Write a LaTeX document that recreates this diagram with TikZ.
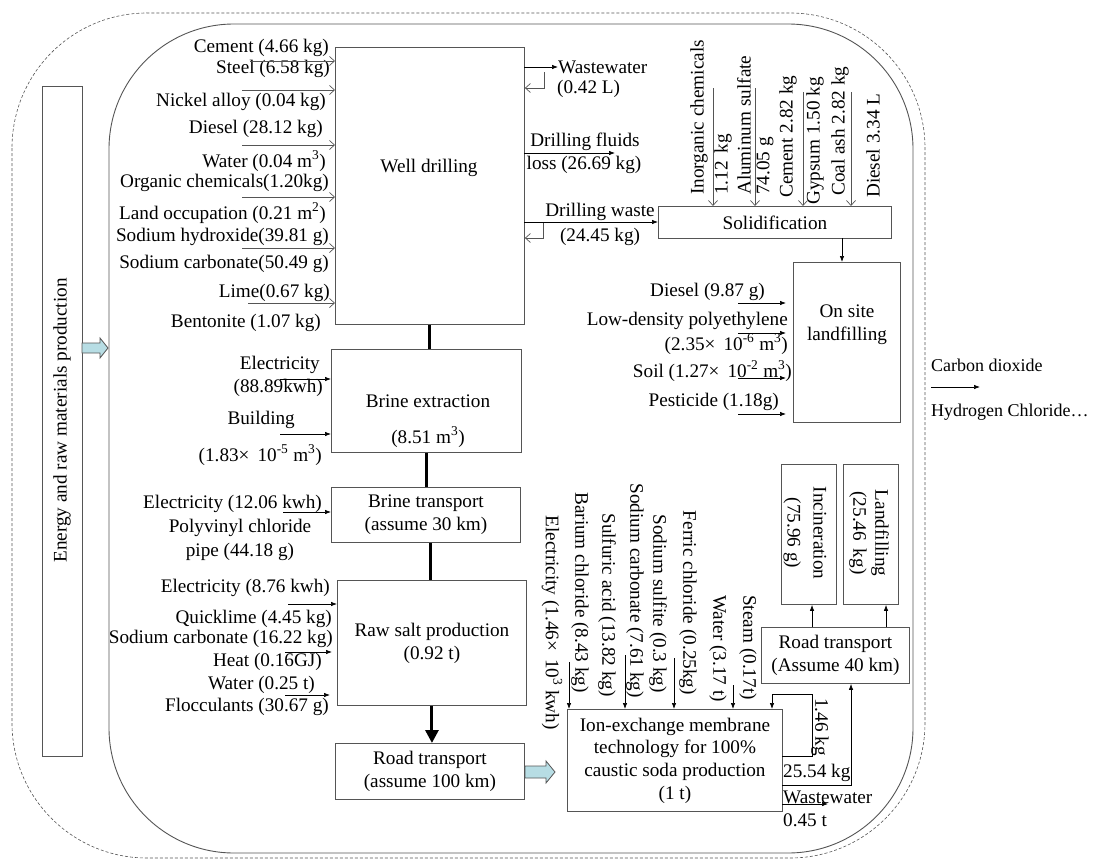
\documentclass[tikz,border=0pt]{standalone}
\usepackage{fontspec}
\setmainfont{Liberation Serif}
\usetikzlibrary{arrows.meta,calc}
\newcommand\fsz{\fontsize{19.2}{23}\selectfont}
\definecolor{fatc}{RGB}{183,221,228}
\definecolor{ln}{RGB}{85,85,85}
\begin{document}
\begin{tikzpicture}[x=1pt,y=-1pt,
  lbl/.style={inner sep=0pt, font=\fsz},
  box/.style={draw=ln, line width=0.9pt, inner sep=0pt, font=\fsz, align=center},
  oarr/.style={draw=ln, line width=0.7pt, -{Straight Barb[length=5pt,width=9pt]}},
  farr/.style={draw=black, line width=0.7pt, -{Latex[length=6pt,width=4.5pt]}},
  thickl/.style={line width=3pt},
  fat/.style={draw=ln, fill=fatc, line width=0.8pt}]
\useasboundingbox (0,0) rectangle (1096,860);

% outlines
\draw[ln, dash pattern=on 3pt off 2pt, line width=0.6pt, rounded corners=135pt] (12,13) rectangle (925,858);
\draw[ln, line width=0.9pt, rounded corners=125pt] (109,24) rectangle (913,853);

% energy box
\node[box, anchor=north west, minimum width=40pt, minimum height=670pt] (en) at (42,86) {};
\node[lbl, rotate=90, anchor=east] (ent) at (62,278) {Energy and raw materials production};
\coordinate (fa1s) at (82,348);
\coordinate (fa1e) at (108,348);
\draw[fat] ($(fa1s)+(0,-5)$) -- ($(fa1e)+(-8,-5)$) -- ($(fa1e)+(-8,-10)$) -- (fa1e) -- ($(fa1e)+(-8,10)$) -- ($(fa1e)+(-8,5)$) -- ($(fa1s)+(0,5)$) -- cycle;

% well drilling
\node[box, anchor=north west, minimum width=189pt, minimum height=277pt] (wd) at (335,47) {};
\node[lbl] (wdt) at (429,168) {Well drilling};
\node[lbl, anchor=east] (w1) at (329,48) {Cement (4.66 kg)};
\node[lbl, anchor=east] (w2) at (330,69) {Steel (6.58 kg)};
\node[lbl, anchor=east] (w3) at (326,102) {Nickel alloy (0.04 kg)};
\node[lbl, anchor=east] (w4) at (323,129) {Diesel (28.12 kg)};
\node[lbl, anchor=east] (w5) at (326,161) {Water (0.04 m\textsuperscript{3})};
\node[lbl, anchor=east] (w6) at (329,183) {Organic chemicals(1.20kg)};
\node[lbl, anchor=east] (w7) at (326,213) {Land occupation (0.21 m\textsuperscript{2})};
\node[lbl, anchor=east] (w8) at (329,237) {Sodium hydroxide(39.81 g)};
\node[lbl, anchor=east] (w9) at (329,264) {Sodium carbonate(50.49 g)};
\node[lbl, anchor=east] (w10) at (330,293) {Lime(0.67 kg)};
\node[lbl, anchor=east] (w11) at (321,323) {Bentonite (1.07 kg)};
\foreach \n/\y/\xs in {a/61/250, b/90/242, c/145/242, d/197/242, e/248/242, f/303/248}{
  \coordinate (wi\n) at (\xs,\y);
  \draw[oarr] (wi\n) -- (wi\n -| wd.west);
}

% well drilling outputs
\node[lbl, anchor=west] (ww) at (558,67) {Wastewater};
\node[lbl, anchor=west] (ww2) at (557,89) {(0.42 L)};
\coordinate (wo1) at (524,67);
\draw[farr] (wo1) -- (ww.west);
\coordinate (r1a) at (544,72);
\coordinate (r1b) at (544,88);
\draw[oarr] (r1a) -- (r1b) -- (r1b -| wd.east);
\node[lbl] (df1) at (585,142) {Drilling fluids};
\node[lbl] (df2) at (584,165) {loss (26.69 kg)};
\coordinate (dfs) at (524,153);
\coordinate (dfe) at (615,153);
\draw[farr] (dfs) -- (dfe);

% solidification
\node[box, anchor=north west, minimum width=233pt, minimum height=32pt] (sol) at (658,206) {Solidification};
\node[lbl] (dw1) at (600,212) {Drilling waste};
\node[lbl] (dw2) at (600,237) {(24.45 kg)};
\coordinate (dws) at (524,222);
\draw[farr] (dws) -- (dws -| sol.west);
\coordinate (r2a) at (543,223);
\coordinate (r2b) at (543,238);
\draw[oarr] (r2a) -- (r2b) -- (r2b -| wd.east);
\node[lbl, rotate=90, anchor=west] (s1) at (699,195) {Inorganic chemicals};
\node[lbl, rotate=90, anchor=west] (s2) at (723,195) {1.12 \,kg};
\node[lbl, rotate=90, anchor=west] (s3) at (744,195) {Aluminum sulfate};
\node[lbl, rotate=90, anchor=west] (s4) at (765,195) {74.05 g};
\node[lbl, rotate=90, anchor=west] (s5) at (788,198) {Cement 2.82 kg};
\node[lbl, rotate=90, anchor=west] (s6) at (815,205) {Gypsum 1.50 kg};
\node[lbl, rotate=90, anchor=west] (s7) at (840,196) {Coal ash 2.82 kg};
\node[lbl, rotate=90, anchor=west] (s8) at (873,198) {Diesel 3.34 L};
\foreach \n/\x/\y in {a/713/88, b/755/88, c/803/92, d/851/92}{
  \coordinate (sa\n) at (\x,\y);
  \draw[oarr] (sa\n) -- (sa\n |- sol.north);
}

% on site landfilling
\node[box, anchor=north west, minimum width=107pt, minimum height=160pt] (lf) at (793,262) {};
\node[lbl, align=center] (lft) at (847,325) {On site\\landfilling};
\coordinate (sl) at (842,238);
\draw[farr] (sl) -- (sl |- lf.north);
\node[lbl, anchor=east] (l1) at (765,292) {Diesel (9.87 g)};
\node[lbl, anchor=east] (l2) at (788,321) {Low-density polyethylene};
\node[lbl, anchor=east] (l3) at (788,344) {(2.35× \,10\textsuperscript{-6} m\textsuperscript{3})};
\node[lbl, anchor=east] (l4) at (792,371) {Soil (1.27× \,10\textsuperscript{-2} m\textsuperscript{3})};
\node[lbl, anchor=east] (l5) at (779,402) {Pesticide (1.18g)};
\foreach \n/\y in {a/303, b/333, c/378, d/414}{
  \coordinate (la\n) at (738,\y);
  \draw[farr] (la\n) -- ($(la\n -| lf.west)+(-7,0)$);
}

% emissions
\node[lbl, anchor=west, font=\fontsize{18}{22}\selectfont] (co2) at (931,365) {Carbon dioxide};
\node[lbl, anchor=west, font=\fontsize{18}{22}\selectfont] (hcl) at (931,412) {Hydrogen Chloride…};
\coordinate (ems) at (931,387);
\coordinate (eme) at (980,387);
\draw[farr] (ems) -- (eme);

% brine extraction
\node[box, anchor=north west, minimum width=190pt, minimum height=103pt] (be) at (331,349) {};
\node[lbl] (be1) at (428,401) {Brine extraction};
\node[lbl] (be2) at (428,437) {(8.51 m\textsuperscript{3})};
\node[lbl, anchor=east] (b1) at (320,365) {Electricity};
\node[lbl, anchor=east] (b2) at (323,388) {(88.89kwh)};
\node[lbl, anchor=east] (b3) at (295,420) {Building};
\node[lbl, anchor=east] (b4) at (322,455) {(1.83× \,10\textsuperscript{-5} m\textsuperscript{3})};
\coordinate (ba1) at (280,379);
\coordinate (ba2) at (280,434);
\draw[farr] (ba1) -- (ba1 -| be.west);
\draw[farr] (ba2) -- (ba2 -| be.west);
\draw[thickl] (wd.south) -- (wd.south |- be.north);

% brine transport
\node[box, anchor=north west, minimum width=189pt, minimum height=55pt] (bt) at (331,487) {Brine transport\\(assume 30 km)};
\draw[thickl] (be.south) -- (be.south |- bt.north);
\node[lbl, anchor=east] (t1) at (322,504) {Electricity (12.06 kwh)};
\node[lbl] (t2) at (240,528) {Polyvinyl chloride};
\node[lbl] (t3) at (240,552) {pipe (44.18 g)};
\coordinate (ta1) at (283,512);
\draw[farr] (ta1) -- (ta1 -| bt.west);

% raw salt production
\node[box, anchor=north west, minimum width=189pt, minimum height=125pt] (rs) at (337,580) {Raw salt production\\(0.92 t)};
\draw[thickl] ($(bt.south)+(5,0)$) -- ($(bt.south |- rs.north)+(5,0)$);
\node[lbl, anchor=east] (r1) at (330,588) {Electricity (8.76 kwh)};
\node[lbl, anchor=east] (r2) at (332,619) {Quicklime (4.45 kg)};
\node[lbl, anchor=east] (r3) at (333,639) {Sodium carbonate (16.22 kg)};
\node[lbl, anchor=east] (r4) at (322,662) {Heat (0.16GJ)};
\node[lbl, anchor=east] (r5) at (315,685) {Water (0.25 t)};
\node[lbl, anchor=east] (r6) at (329,707) {Flocculants (30.67 g)};
\coordinate (ra1) at (288,604);
\coordinate (ra2) at (285,652);
\coordinate (ra3) at (285,695);
\draw[farr] (ra1) -- (ra1 -| rs.west);
\draw[farr] (ra2) -- ($(ra2 -| rs.west)+(-5,0)$);
\draw[farr] (ra3) -- ($(ra3 -| rs.west)+(-7,0)$);

% road transport 100 km
\node[box, anchor=north west, minimum width=189pt, minimum height=56pt] (rt1) at (335,743) {Road transport\\(assume 100 km)};
\draw[line width=3pt, -{Triangle[length=13pt,width=13pt]}] (rs.south) -- (rs.south |- rt1.north);

% ion exchange
\node[box, anchor=north west, minimum width=215pt, minimum height=102pt, font=\fontsize{19.2}{22.7}\selectfont] (ion) at (567,709) {Ion-exchange membrane\\technology for 100\%\\caustic soda production\\(1 t)};
\coordinate (fa2s) at (525,772);
\coordinate (fa2e) at (555,772);
\draw[fat] ($(fa2s)+(0,-6)$) -- ($(fa2e)+(-9,-6)$) -- ($(fa2e)+(-9,-11)$) -- (fa2e) -- ($(fa2e)+(-9,11)$) -- ($(fa2e)+(-9,6)$) -- ($(fa2s)+(0,6)$) -- cycle;

\node[lbl, rotate=-90, anchor=east] (i1) at (552,730) {Electricity (1.46× \,10\textsuperscript{3} kwh)};
\node[lbl, rotate=-90, anchor=east] (i2) at (580,693) {Barium chloride (8.43 kg)};
\node[lbl, rotate=-90, anchor=east] (i3) at (607,697) {Sulfuric acid (13.82 kg)};
\node[lbl, rotate=-90, anchor=east] (i4) at (635,698) {Sodium carbonate (7.61 kg)};
\node[lbl, rotate=-90, anchor=east] (i5) at (658,693) {Sodium sulfite (0.3 kg)};
\node[lbl, rotate=-90, anchor=east] (i6) at (688,695) {Ferric chloride (0.25kg)};
\node[lbl, rotate=-90, anchor=east] (i7) at (718,702) {Water (3.17 t)};
\node[lbl, rotate=-90, anchor=east] (i8) at (748,700) {Steam (0.17t)};
\foreach \n/\x/\y in {a/569/662, b/625/655, c/674/658, d/733/685}{
  \coordinate (ia\n) at (\x,\y);
  \draw[farr] (ia\n) -- (ia\n |- ion.north);
}

% road transport 40 km, incineration, landfilling
\node[box, anchor=north west, minimum width=148pt, minimum height=56pt] (rt2) at (761,627) {Road transport\\(Assume 40 km)};
\node[box, anchor=north west, minimum width=55pt, minimum height=140pt] (inc) at (781,464) {};
\node[lbl, rotate=-90, align=center, font=\fontsize{19.2}{26}\selectfont] (inct) at (805,533) {Incineration\\(75.96 g)};
\node[box, anchor=north west, minimum width=55pt, minimum height=140pt] (lfl) at (843,464) {};
\node[lbl, rotate=-90, align=center, font=\fontsize{19.2}{22}\selectfont] (lflt) at (869,533) {Landfilling\\(25.46 \,kg)};
\coordinate (u1) at (812,627);
\coordinate (u2) at (886,627);
\draw[farr] (u1) -- (u1 |- inc.south);
\draw[farr] (u2) -- (u2 |- lfl.south);

% ion outputs
\coordinate (lp1) at (782,756);
\coordinate (lp2) at (812,756);
\coordinate (lp3) at (812,694);
\coordinate (lp4) at (772,694);
\draw[farr] (lp1) -- (lp2) -- (lp3) -- (lp4) -- (lp4 |- ion.north);
\node[lbl, rotate=-90, anchor=west] (o1) at (820,698) {1.46 kg};
\coordinate (o2a) at (782,785);
\coordinate (o2b) at (851,785);
\draw[farr] (o2a) -- (o2b) -- (o2b |- rt2.south);
\node[lbl, anchor=west] (o2) at (783,773) {25.54 kg};
\coordinate (o3a) at (782,804);
\coordinate (o3b) at (828,804);
\draw[farr] (o3a) -- (o3b);
\node[lbl, anchor=west] (o3) at (783,797) {Wastewater};
\node[lbl, anchor=west] (o4) at (783,820) {0.45 t};
\end{tikzpicture}
\end{document}
